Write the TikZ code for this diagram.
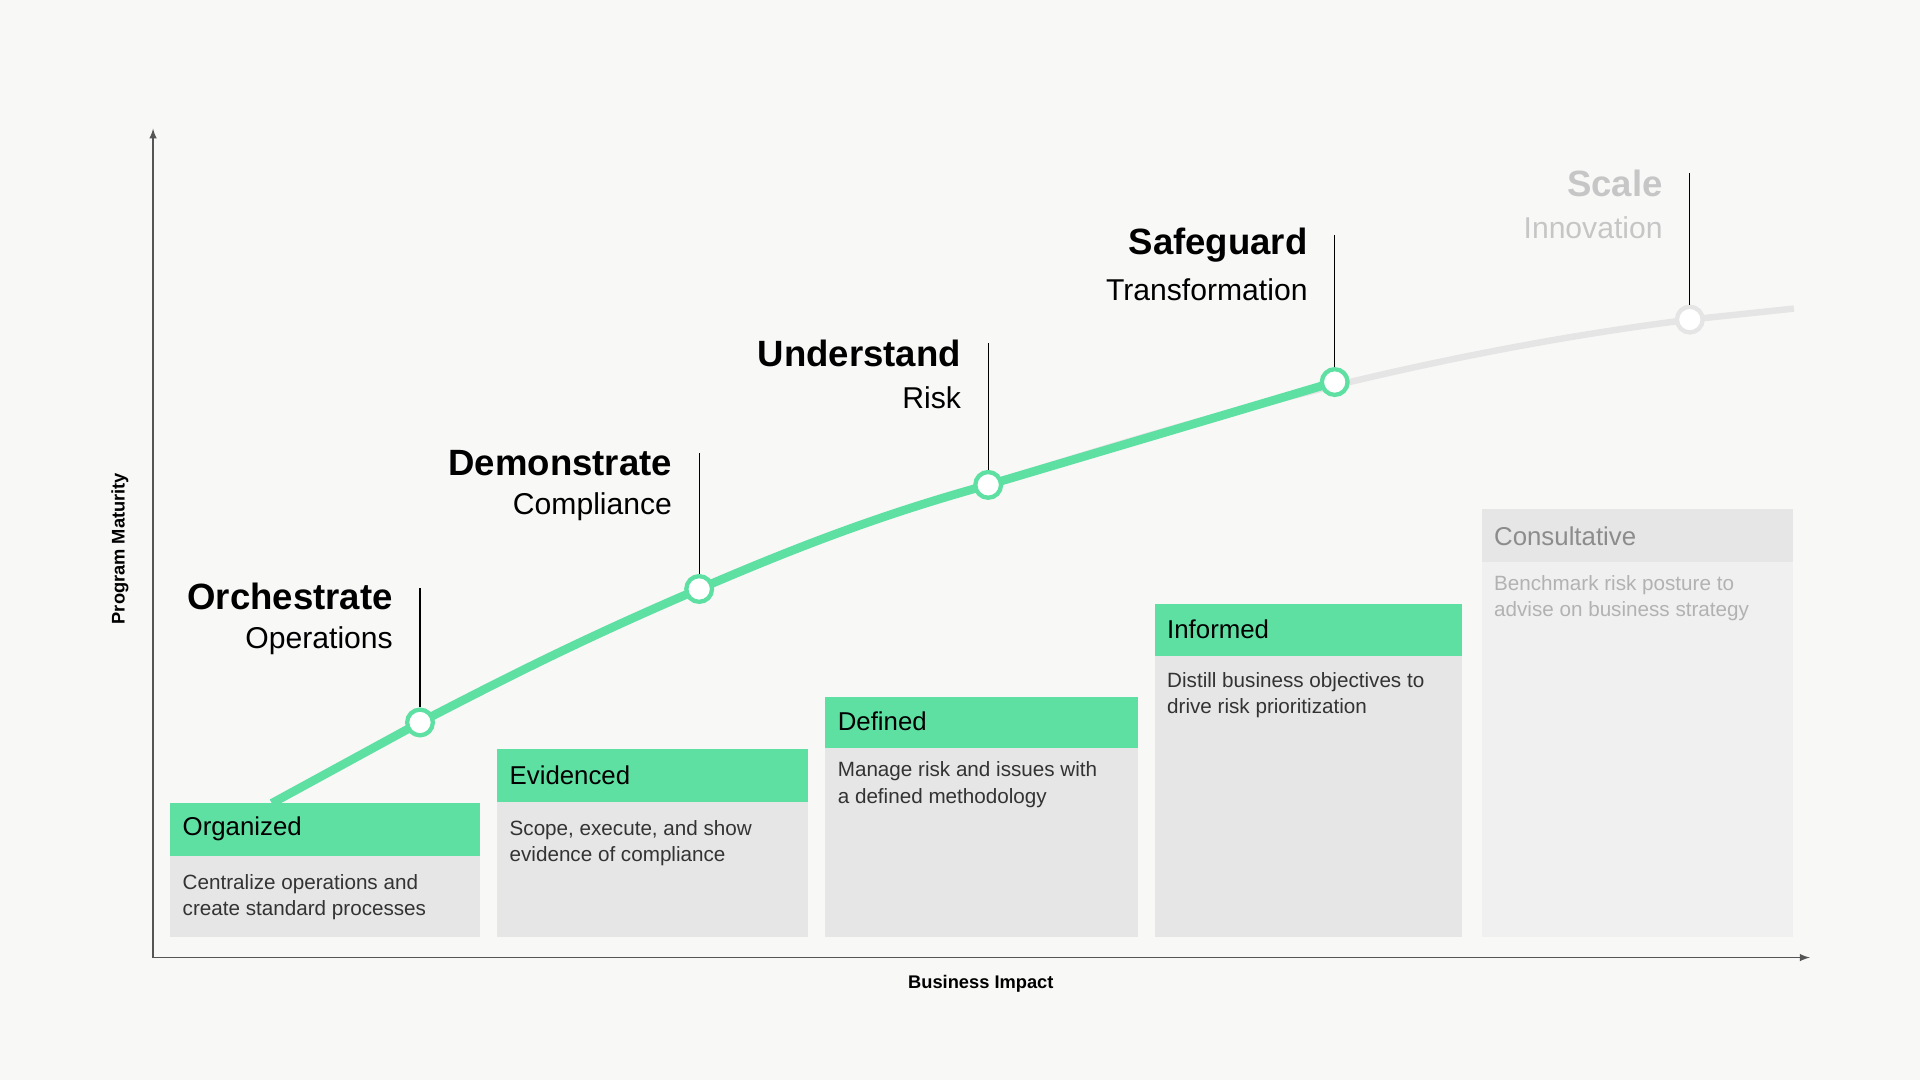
\documentclass[tikz,border=0pt]{standalone}
\usepackage{fontspec}
\setmainfont{Liberation Sans}
\definecolor{bgc}{HTML}{F8F8F7}
\definecolor{mint}{HTML}{5EE0A3}
\definecolor{boxg}{HTML}{E6E6E6}
\definecolor{fadeg}{HTML}{F0F0F0}
\definecolor{fadet}{HTML}{C6C6C6}
\definecolor{axisg}{HTML}{555555}
\tikzset{
  hdr/.style={anchor=west, font=\fontsize{12}{14}\selectfont},
  body/.style={anchor=north west, align=left, text=black!80, font=\fontsize{9.6}{12.2}\selectfont},
  ttl/.style={anchor=east, font=\bfseries\fontsize{17}{20}\selectfont},
  sub/.style={anchor=east, font=\fontsize{14}{16}\selectfont},
  dot/.style={circle, draw=mint, line width=2pt, fill=white, minimum size=0.42cm, inner sep=0pt},
}
\begin{document}
\begin{tikzpicture}[x=0.02cm, y=-0.02cm]
  \fill[bgc] (0,0) rectangle (1568,882);
  \useasboundingbox (0,0) rectangle (1568,882);

  % axes
  \coordinate (O) at (125,782);
  \coordinate (Ytop) at (125,105);
  \coordinate (Xend) at (1478,782);
  \draw[axisg, line width=0.6pt, -latex] (O) -- (Ytop);
  \draw[axisg, line width=0.6pt, -latex] (O) -- (Xend);
  \node[font=\bfseries\fontsize{8.5}{10}\selectfont] (xlab) at (801,803) {Business Impact};
  \node[font=\bfseries\fontsize{8.5}{10}\selectfont, rotate=90] (ylab) at (98,448) {Program Maturity};

  % stage boxes
  \fill[boxg] (139,699) rectangle (392,765);
  \fill[mint] (139,656) rectangle (392,699);
  \node[hdr] (b1) at (139+4,677) {Organized};
  \node[body] (t1) at (139+4,708) {Centralize operations and\\create standard processes};

  \fill[boxg] (406,655) rectangle (660,765);
  \fill[mint] (406,612) rectangle (660,655);
  \node[hdr] (b2) at (406+4,633) {Evidenced};
  \node[body] (t2) at (406+4,664) {Scope, execute, and show\\evidence of compliance};

  \fill[boxg] (674,611) rectangle (929,765);
  \fill[mint] (674,569) rectangle (929,611);
  \node[hdr] (b3) at (674+4,589) {Defined};
  \node[body] (t3) at (674+4,616) {Manage risk and issues with\\a defined methodology};

  \fill[boxg] (943,536) rectangle (1194,765);
  \fill[mint] (943,493) rectangle (1194,536);
  \node[hdr] (b4) at (943+4,514) {Informed};
  \node[body] (t4) at (943+4,543) {Distill business objectives to\\drive risk prioritization};

  \fill[fadeg] (1210,459) rectangle (1464,765);
  \fill[boxg] (1210,416) rectangle (1464,459);
  \node[hdr, text=black!45] (b5) at (1210+4,438) {Consultative};
  \node[body, text=fadet!90!black] (t5) at (1210+4,464) {Benchmark risk posture to\\advise on business strategy};

  % curve
  \coordinate (c0) at (222,656);
  \coordinate (c6) at (1465,252);
  \draw[black!10, line width=3pt] (807,396) .. controls (950,350) and (1150,290) .. (1380,261) -- (c6);
  \draw[mint, line width=4pt] (c0) -- (343,590) .. controls (420,550) and (480,520) .. (571,481)
    .. controls (650,447) and (720,420) .. (807,396) -- (1090,312);

  % milestones
  \node[dot] (m1) at (343,590) {};
  \node[dot] (m2) at (571,481) {};
  \node[dot] (m3) at (807,396) {};
  \node[dot] (m4) at (1090,312) {};
  \node[dot, draw=black!10] (m5) at (1380,261) {};
  \coordinate (p1) at (343,480);
  \coordinate (p2) at (571,370);
  \coordinate (p3) at (807,280);
  \coordinate (p4) at (1090,192);
  \coordinate (p5) at (1380,141);
  \foreach \i in {1,...,5} \draw[line width=0.6pt] (m\i) -- (p\i);

  % labels
  \node[ttl] (l1) at (327,487) {Orchestrate};
  \node[sub] (s1) at (327,523) {Operations};
  \node[ttl] (l2) at (555,378) {Demonstrate};
  \node[sub] (s2) at (555,414) {Compliance};
  \node[ttl] (l3) at (791,289) {Understand};
  \node[sub] (s3) at (791,325) {Risk};
  \node[ttl] (l4) at (1074,200) {Safeguard};
  \node[sub] (s4) at (1074,237) {Transformation};
  \node[ttl, text=fadet] (l5) at (1364,150) {Scale};
  \node[sub, text=fadet] (s5) at (1364,186) {Innovation};
\end{tikzpicture}
\end{document}
